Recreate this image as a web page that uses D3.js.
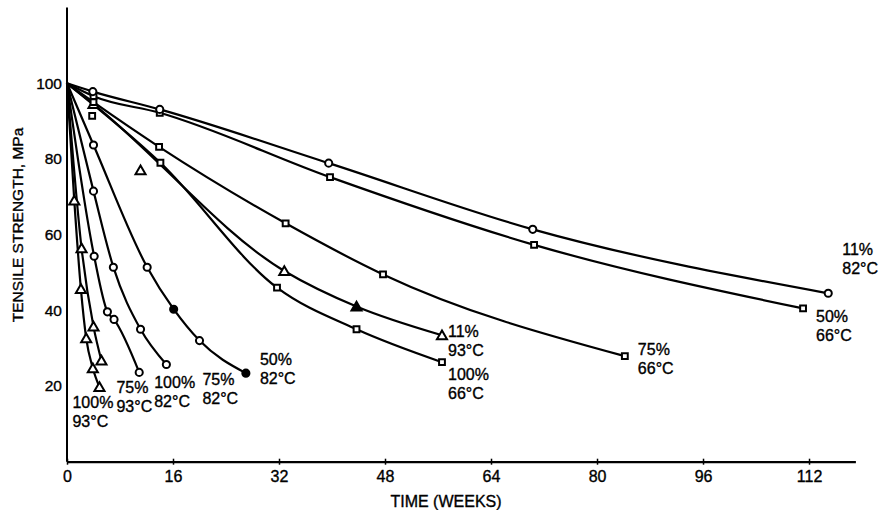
<!DOCTYPE html>
<html>
<head>
<meta charset="utf-8">
<script src="https://cdn.jsdelivr.net/npm/d3@7"></script>
<style>
  body { margin: 0; background: #fff; }
  svg { display: block; font-family: "Liberation Sans", Arial, Helvetica, sans-serif; }
  svg text { stroke: #000; stroke-width: 0.35px; }
</style>
</head>
<body>
<svg id="chart" width="879" height="510"></svg>
<script>
// [week, tensile strength MPa]
const rh100_93C = [[0, 100], [1.1, 69], [2.1, 45.6], [2.9, 32.6], [3.9, 24.7], [4.9, 19.7]];
const rh75_93C = [[0, 100], [2.2, 56.4], [4, 35.7], [5.2, 26.7]];
const rh100_82C = [[0, 100], [4.1, 54.3], [6.1, 39.6], [7.1, 37.6], [10.9, 23.6]];
const rh75_82C = [[0, 100], [4, 71.5], [7, 51.4], [11.1, 35], [15, 25.7]];
const rh50_82C = [[0, 100], [4, 83.7], [12.1, 51.4], [16.1, 40.3], [20, 32], [27, 23.4]];
const rh11_93C = [[0, 100], [4, 94.5], [11.1, 77], [32.8, 50.4], [43.7, 41], [56.6, 33.4]];
const rh100_66C = [[0, 100], [3.8, 91.4], [14.1, 79], [31.7, 46], [43.7, 35], [56.6, 26.3]];
const rh75_66C = [[0, 100], [4, 95], [13.9, 83.2], [33, 63], [47.7, 49.5], [84.2, 27.9]];
const rh50_66C = [[0, 100], [4, 96.6], [14, 92.2], [39.7, 75.2], [70.5, 57.3], [111.1, 40.5]];
const rh11_82C = [[0, 100], [3.9, 97.8], [14, 93.1], [39.5, 78.9], [70.3, 61.4], [114.9, 44.5]];

const seriesData = [rh100_93C, rh75_93C, rh100_82C, rh75_82C, rh50_82C,
  rh11_93C, rh100_66C, rh75_66C, rh50_66C, rh11_82C];
const seriesLabels = [["100%", "93°C"], ["75%", "93°C"], ["100%", "82°C"], ["75%", "82°C"], ["50%", "82°C"],
  ["11%", "93°C"], ["100%", "66°C"], ["75%", "66°C"], ["50%", "66°C"], ["11%", "82°C"]];
const seriesMarkers = ["triangle", "triangle", "circle", "circle", "circle",
  "triangle", "square", "square", "square", "circle"];
// points plotted but left off the drawn curve (series index, week)
const offCurve = [[5, 11.1], [6, 3.8]];
// points drawn as solid marks
const solidPoints = [[4, 16.1], [4, 27], [5, 43.7]];

const xTicks = [0, 16, 32, 48, 64, 80, 96, 112];
const yTicks = [20, 40, 60, 80, 100];

// label placement, px offset from the last point of each series
const labelOffsets = [[-27, 21], [15, 32], [15, 16], [36, 21], [14, -8],
  [6, 2], [6, 18], [13, -1], [13, 14], [14, -38]];

const svg = d3.select("#chart");
const x = d3.scaleLinear().domain([0, 119]).range([67, 855.4]);
const y = d3.scaleLinear().domain([0, 120]).range([461.7, 7.6]);

const symbols = { circle: d3.symbolCircle, square: d3.symbolSquare, triangle: d3.symbolTriangle };
const symbolSize = { circle: 40, square: 34, triangle: 44 };

// axes
const gx = svg.append("g")
  .attr("transform", `translate(0,${y(0)})`)
  .call(d3.axisBottom(x).tickValues(xTicks).tickSizeOuter(0).tickSizeInner(3).tickPadding(6));
gx.select(".domain").attr("stroke-width", 2.2);
gx.selectAll(".tick line").attr("y1", -3).attr("stroke-width", 1.5);
gx.selectAll(".tick text").attr("font-size", 16).attr("font-family", null).attr("fill", "#000");

const gy = svg.append("g")
  .attr("transform", `translate(${x(0)},0)`)
  .call(d3.axisLeft(y).tickValues(yTicks).tickSizeOuter(0).tickSizeInner(4).tickPadding(1));
gy.select(".domain").attr("stroke-width", 2).attr("d", `M0,${y(120)}V${y(0)}`);
gy.selectAll(".tick line").attr("x2", 1).attr("stroke-width", 1.5);
gy.selectAll(".tick text").attr("font-size", 15.5).attr("font-family", null).attr("fill", "#000");

svg.append("text")
  .attr("x", 446).attr("y", 507)
  .attr("text-anchor", "middle").attr("font-size", 16)
  .text("TIME (WEEKS)");

svg.append("text")
  .attr("transform", "translate(23,225) rotate(-90)")
  .attr("text-anchor", "middle").attr("font-size", 15.5)
  .text("TENSILE STRENGTH, MPa");

// curves
const line = d3.line()
  .x(d => x(d[0]))
  .y(d => y(d[1]))
  .curve(d3.curveMonotoneX);

const isOff = (i, d) => offCurve.some(o => o[0] == i && o[1] == d[0]);
const isSolid = (i, d) => solidPoints.some(o => o[0] == i && o[1] == d[0]);

svg.append("g")
  .attr("fill", "none")
  .attr("stroke", "#000")
  .attr("stroke-width", 2.2)
  .attr("stroke-linejoin", "round")
  .selectAll("path")
  .data(seriesData)
  .join("path")
  .attr("d", (s, i) => line(s.filter(d => !isOff(i, d))));

// markers
seriesData.forEach((s, i) => {
  const m = seriesMarkers[i];
  svg.append("g")
    .selectAll("path")
    .data(s.filter(d => d[0] > 0))
    .join("path")
    .attr("transform", d => `translate(${x(d[0])},${y(d[1]) + (m == "triangle" ? 1 : 0)})`)
    .attr("d", d3.symbol().type(symbols[m]).size(symbolSize[m]))
    .attr("fill", d => isSolid(i, d) ? "#000" : "#fff")
    .attr("stroke", "#000")
    .attr("stroke-width", 2);
});

// series labels
const labels = svg.append("g").attr("font-size", 16);
seriesData.forEach((s, i) => {
  const last = s[s.length - 1];
  const [dx, dy] = labelOffsets[i];
  const t = labels.append("text")
    .attr("x", x(last[0]) + dx)
    .attr("y", y(last[1]) + dy);
  seriesLabels[i].forEach((l, j) => {
    t.append("tspan")
      .attr("x", x(last[0]) + dx)
      .attr("dy", j == 0 ? 0 : 19)
      .text(l);
  });
});
</script>
</body>
</html>
